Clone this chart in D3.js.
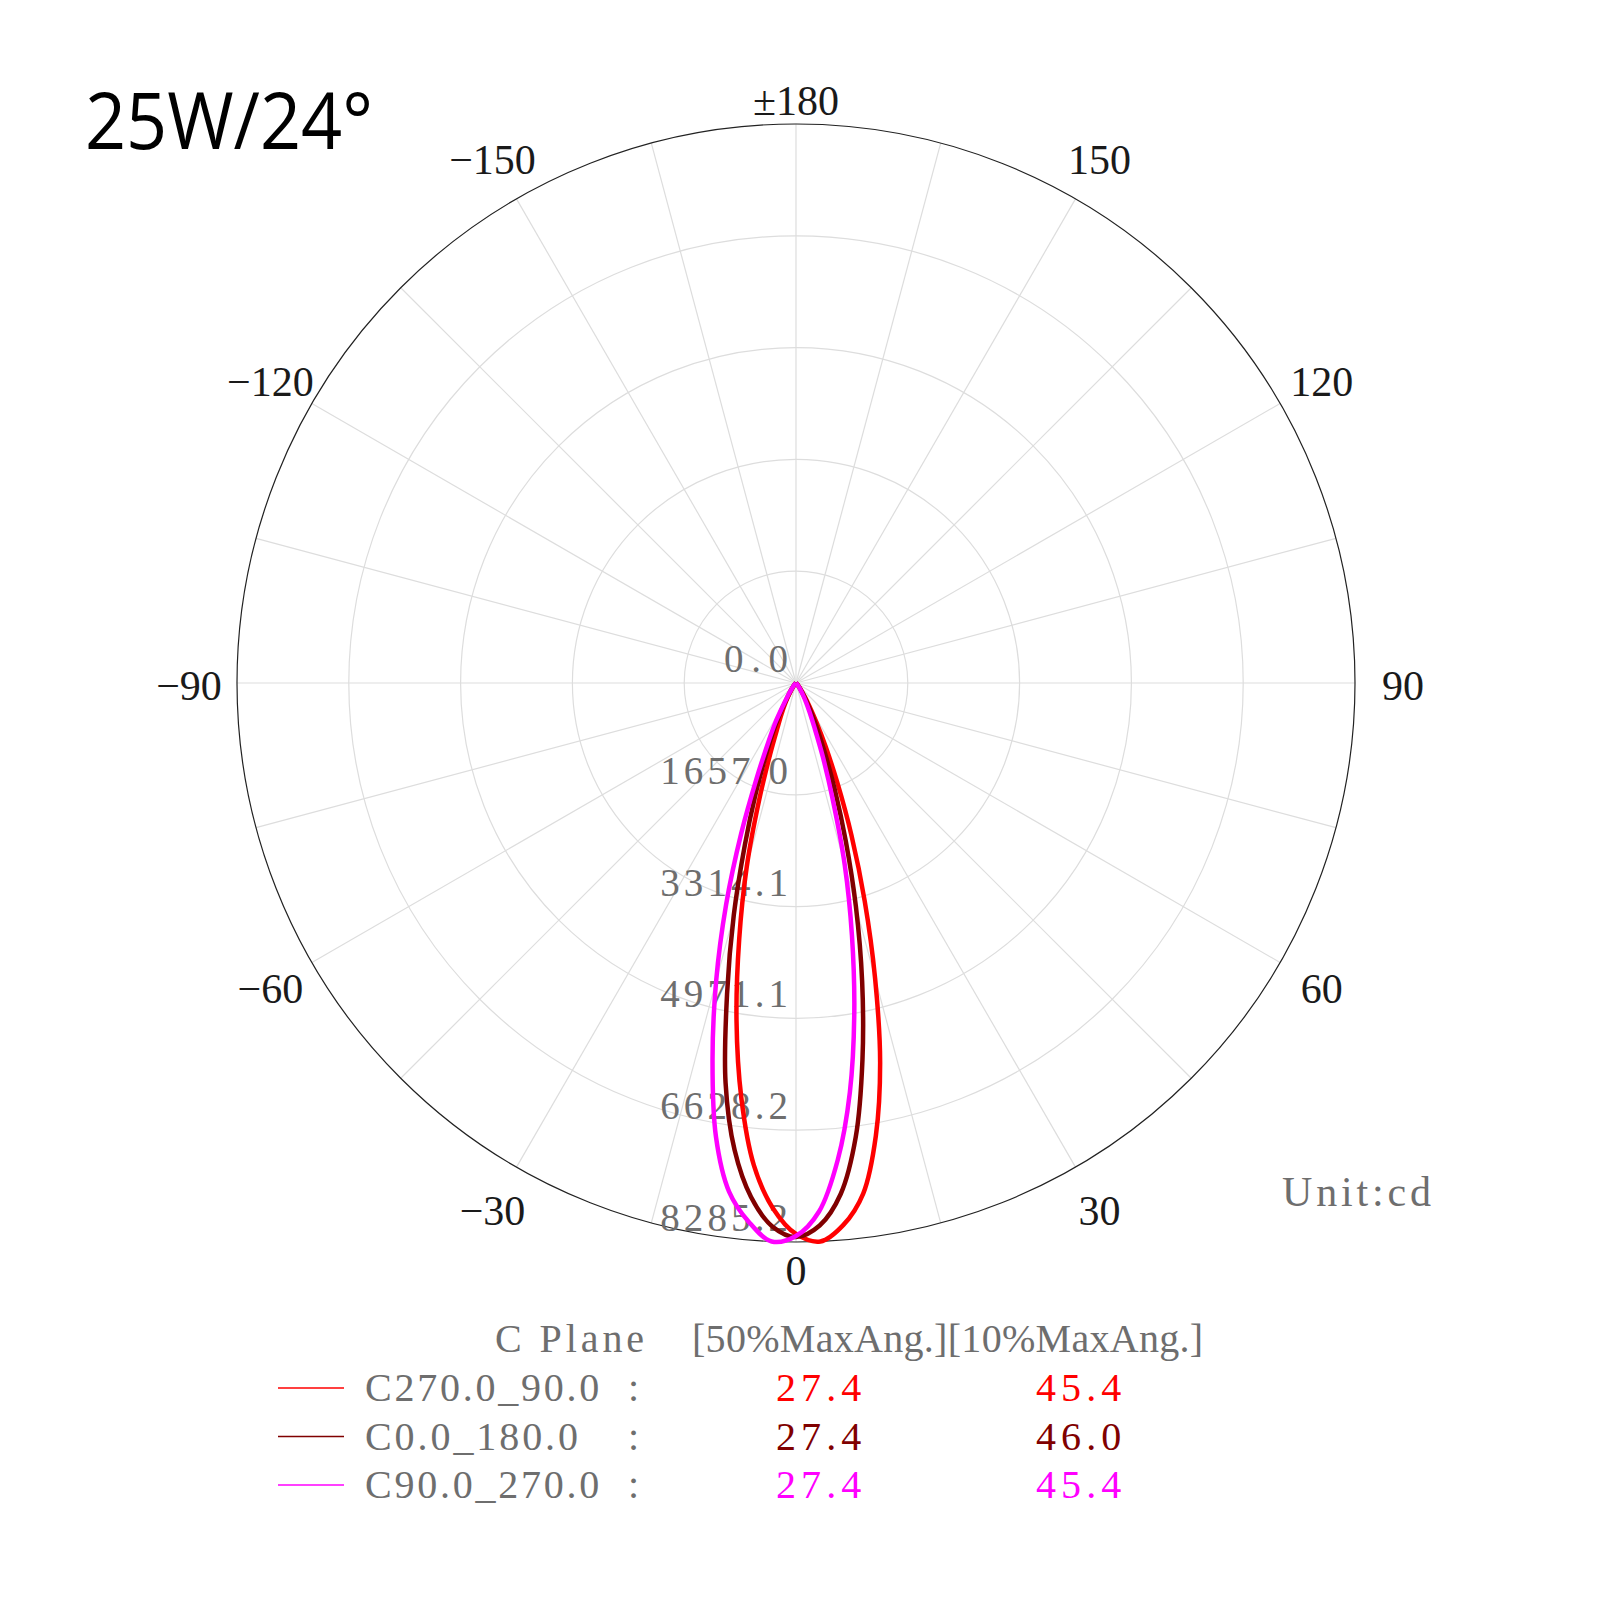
<!DOCTYPE html>
<html>
<head>
<meta charset="utf-8">
<script src="https://cdn.jsdelivr.net/npm/d3@7"></script>
<style>
  body { margin: 0; background: #fff; }
  svg { display: block; }
</style>
</head>
<body>
<div id="vis"></div>
<script>
// Gamma angles (deg), 0 = straight down, + = right side of the plot
const gammas = [-50, -47.5, -45, -42.5, -40, -37.5, -35, -32.5, -30, -27.5,
  -25, -22.5, -20, -17.5, -15, -12.5, -10, -7.5, -5, -2.5,
  0, 2.5, 5, 7.5, 10, 12.5, 15, 17.5, 20, 22.5,
  25, 27.5, 30, 32.5, 35, 37.5, 40, 42.5, 45, 47.5, 50]

// Intensities in cd
const c270_90 = [0, 15, 15, 30, 30, 59, 89, 148, 238, 356,
  505, 713, 1114, 1811, 2821, 3890, 5078, 6206, 7172, 7795,
  8166, 8285, 8062, 7632, 6815, 5761, 4529, 3385, 2405, 1604,
  1039, 653, 401, 252, 148, 104, 59, 45, 30, 15, 0]
const c0_180 = [0, 15, 30, 45, 59, 89, 134, 193, 297, 520,
  817, 1188, 1752, 2524, 3564, 4722, 6013, 6979, 7647, 8062,
  8211, 8048, 7602, 6786, 5672, 4529, 3430, 2450, 1678, 1114,
  742, 475, 297, 193, 119, 74, 45, 30, 15, 15, 0]
const c90_270 = [0, 15, 30, 45, 59, 89, 134, 223, 371, 668,
  980, 1514, 2376, 3445, 4573, 5716, 6830, 7602, 8018, 8285,
  8196, 7840, 7097, 6117, 4974, 3831, 2791, 1811, 1158, 713,
  475, 327, 208, 134, 89, 59, 30, 30, 15, 0, 0]

const seriesNames = ["C270.0_90.0", "C0.0_180.0", "C90.0_270.0"]
const seriesColors = ["#ff0000", "#800000", "#ff00ff"]
const half = ["27.4", "27.4", "27.4"]
const tenth = ["45.4", "46.0", "45.4"]

const ringValues = [0, 1657.0, 3314.1, 4971.1, 6628.2, 8285.2]
const ringLabels = ["0.0", "1657.0", "3314.1", "4971.1", "6628.2", "8285.2"]
const angleTicks = [0, 30, 60, 90, 120, 150, 180, -150, -120, -90, -60, -30]
const angleLabels = ["0", "30", "60", "90", "120", "150", "\u00b1180", "\u2212150", "\u2212120", "\u221290", "\u221260", "\u221230"]

const title = "25W/24\u00b0"

// layout
const cx = 796, cy = 683, R = 559
const pitch = 21.3   // char width of the mono label font
const serif = "'Liberation Serif', 'Times New Roman', serif"

const r = d3.scaleLinear().domain([0, 8285.2]).range([0, R])
const toRad = d => d * Math.PI / 180

const svg = d3.select("#vis").append("svg")
    .attr("width", 1600)
    .attr("height", 1600)

svg.append("text")
    .attr("x", 85).attr("y", 149)
    .attr("font-family", "'Open Sans', sans-serif")
    .attr("font-size", 78)
    .attr("textLength", 288)
    .attr("lengthAdjust", "spacingAndGlyphs")
    .attr("fill", "#000")
    .text(title)

const g = svg.append("g").attr("transform", `translate(${cx},${cy})`)

// spokes every 15 deg
g.selectAll("line.spoke")
    .data(d3.range(0, 360, 15))
    .enter().append("line")
    .attr("class", "spoke")
    .attr("x1", 0).attr("y1", 0)
    .attr("x2", d => R * Math.sin(toRad(d)))
    .attr("y2", d => R * Math.cos(toRad(d)))
    .style("stroke", "#dddddd")
    .style("stroke-width", 1.2)

// rings
g.selectAll("circle.ring")
    .data(ringValues.slice(1))
    .enter().append("circle")
    .attr("class", "ring")
    .attr("r", d => r(d))
    .attr("fill", "none")
    .style("stroke", (d, i) => i === ringValues.length - 2 ? "#222" : "#dddddd")
    .style("stroke-width", 1.2)

// ring value labels
g.selectAll("text.ringlab")
    .data(ringValues)
    .enter().append("text")
    .attr("class", "ringlab")
    .attr("x", -8)
    .attr("y", d => r(d) - 11)
    .attr("text-anchor", "end")
    .attr("font-family", serif)
    .attr("font-size", 39)
    .attr("fill", "#6e6e6e")
    .attr("textLength", (d, i) => ringLabels[i].length * pitch)
    .attr("lengthAdjust", "spacing")
    .text((d, i) => ringLabels[i])

// angle labels
g.selectAll("text.anglab")
    .data(angleTicks)
    .enter().append("text")
    .attr("class", "anglab")
    .attr("x", d => {
        const lr = (d === 0 || d === 180) ? R + 26 : R + 48
        return lr * Math.sin(toRad(d))
    })
    .attr("y", d => {
        const lr = (d === 0 || d === 180) ? R + 26 : R + 48
        return lr * Math.cos(toRad(d))
    })
    .attr("dy", "0.4em")
    .attr("text-anchor", "middle")
    .attr("font-family", serif)
    .attr("font-size", 42)
    .attr("fill", "#1a1a1a")
    .text((d, i) => angleLabels[i])

// intensity curves
const line = d3.lineRadial()
    .angle(d => Math.PI - toRad(d[0]))
    .radius(d => r(d[1]))
    .curve(d3.curveCatmullRom)

const series = [c270_90, c0_180, c90_270]
g.selectAll("path.curve")
    .data(series)
    .enter().append("path")
    .attr("class", "curve")
    .attr("d", vals => line(gammas.map((a, i) => [a, vals[i]])))
    .attr("fill", "none")
    .style("stroke", (d, i) => seriesColors[i])
    .style("stroke-width", 4.5)
    .style("stroke-linejoin", "round")

svg.append("text")
    .attr("x", 1282).attr("y", 1206)
    .attr("font-family", serif)
    .attr("font-size", 42)
    .attr("fill", "#6e6e6e")
    .attr("textLength", 7 * pitch)
    .attr("lengthAdjust", "spacing")
    .text("Unit:cd")

// legend
const leg = svg.append("g")
const headY = 1352, rowY0 = 1401, rowStep = 48.5

leg.append("text")
    .attr("x", 495).attr("y", headY)
    .attr("font-family", serif).attr("font-size", 40).attr("fill", "#6e6e6e")
    .attr("textLength", 7 * pitch).attr("lengthAdjust", "spacing")
    .text("C Plane")
leg.append("text")
    .attr("x", 692).attr("y", headY)
    .attr("font-family", serif).attr("font-size", 40).attr("fill", "#6e6e6e")
    .attr("textLength", 24 * pitch).attr("lengthAdjust", "spacing")
    .text("[50%MaxAng.][10%MaxAng.]")

const rows = leg.selectAll("g.row")
    .data(seriesNames)
    .enter().append("g")
    .attr("class", "row")
    .attr("transform", (d, i) => `translate(0,${rowY0 + i * rowStep})`)

rows.append("line")
    .attr("x1", 278).attr("x2", 344)
    .attr("y1", -13).attr("y2", -13)
    .style("stroke", (d, i) => seriesColors[i])
    .style("stroke-width", 1.5)

rows.append("text")
    .attr("x", 365)
    .attr("font-family", serif).attr("font-size", 40).attr("fill", "#6e6e6e")
    .attr("textLength", d => d.length * pitch).attr("lengthAdjust", "spacing")
    .text(d => d)

rows.append("text")
    .attr("x", 628)
    .attr("font-family", serif).attr("font-size", 40).attr("fill", "#6e6e6e")
    .text(":")

rows.append("text")
    .attr("x", 776)
    .attr("font-family", serif).attr("font-size", 40)
    .attr("fill", (d, i) => seriesColors[i])
    .attr("textLength", 4 * pitch).attr("lengthAdjust", "spacing")
    .text((d, i) => half[i])

rows.append("text")
    .attr("x", 1036)
    .attr("font-family", serif).attr("font-size", 40)
    .attr("fill", (d, i) => seriesColors[i])
    .attr("textLength", 4 * pitch).attr("lengthAdjust", "spacing")
    .text((d, i) => tenth[i])
</script>
</body>
</html>
